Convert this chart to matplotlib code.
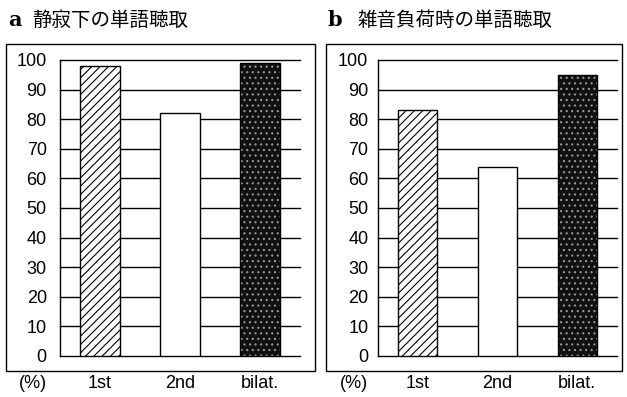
import matplotlib
matplotlib.use("Agg")
import matplotlib.pyplot as plt
from matplotlib.patches import Rectangle

W, H = 627, 397
categories = ["1st", "2nd", "bilat."]
quiet_values = [98, 82, 99]
noise_values = [83, 64, 95]
yticks = [0, 10, 20, 30, 40, 50, 60, 70, 80, 90, 100]
titles = [("a", "静寂下の単語聴取"), ("b", "雑音負荷時の単語聴取")]

plt.rcParams['hatch.linewidth'] = 0.8
SANS = ['Liberation Sans', 'DejaVu Sans']
CJK = ['Noto Sans CJK JP', 'DejaVu Sans']

fig = plt.figure(figsize=(W / 100, H / 100), dpi=100)

def fx(px):
    return px / W

def fy(py):
    return 1 - py / H

panels = [
    dict(vals=quiet_values, ax_l=60, ax_r=300, box=(6, 315), lab_pad=9.5,
         title_x=(8, 32), pct_x=33),
    dict(vals=noise_values, ax_l=378, ax_r=617, box=(326, 622), lab_pad=7.0,
         title_x=(328, 357), pct_x=354),
]
ax_top, ax_bot = 60, 356
box_top, box_bot = 44, 371

for p, (letter, ttl) in zip(panels, titles):
    ax = fig.add_axes([fx(p['ax_l']), fy(ax_bot), (p['ax_r'] - p['ax_l']) / W,
                       (ax_bot - ax_top) / H])
    ax.set_xlim(-0.5, 2.5)
    ax.set_ylim(0, 100)
    for v in yticks:
        ax.axhline(v, color='black', lw=1.0, zorder=0.5, clip_on=False)
    x = range(len(categories))
    vals = p['vals']
    w = 0.49
    # 1st: diagonal hatch
    ax.bar(0, vals[0], width=w, facecolor='white', edgecolor='black',
           hatch='////', lw=1.0, zorder=2)
    # 2nd: plain white
    ax.bar(1, vals[1], width=w, facecolor='white', edgecolor='black',
           lw=1.0, zorder=2)
    # bilat: dark speckled
    ax.bar(2, vals[2], width=w, facecolor='#111111', edgecolor='#999999',
           hatch='...', lw=0, zorder=2)
    ax.bar(2, vals[2], width=w, fill=False, edgecolor='black', lw=1.0, zorder=3)

    for s in ['top', 'right', 'bottom']:
        ax.spines[s].set_visible(False)
    ax.spines['left'].set_linewidth(1.0)
    ax.set_yticks(yticks)
    ax.set_yticklabels([str(v) for v in yticks], fontsize=13, family=SANS)
    ax.tick_params(axis='y', length=0, pad=p['lab_pad'])
    ax.set_xticks(list(x))
    ax.set_xticklabels(categories, fontsize=13, family=SANS)
    ax.tick_params(axis='x', length=0, pad=14)

    b0, b1 = p['box']
    fig.add_artist(Rectangle((fx(b0), fy(box_bot)), (b1 - b0) / W,
                             (box_bot - box_top) / H, transform=fig.transFigure,
                             fill=False, ec='black', lw=1.0))
    fig.text(fx(p['pct_x']), fy(384), "(%)", fontsize=13, family=SANS,
             ha='center', va='center')
    fig.text(fx(p['title_x'][0]), fy(20), letter, fontsize=15,
             family=['DejaVu Serif'], weight='bold', ha='left', va='center')
    fig.text(fx(p['title_x'][1]), fy(20), ttl, fontsize=14, family=CJK,
             ha='left', va='center')

fig.savefig("out.png", dpi=100)
